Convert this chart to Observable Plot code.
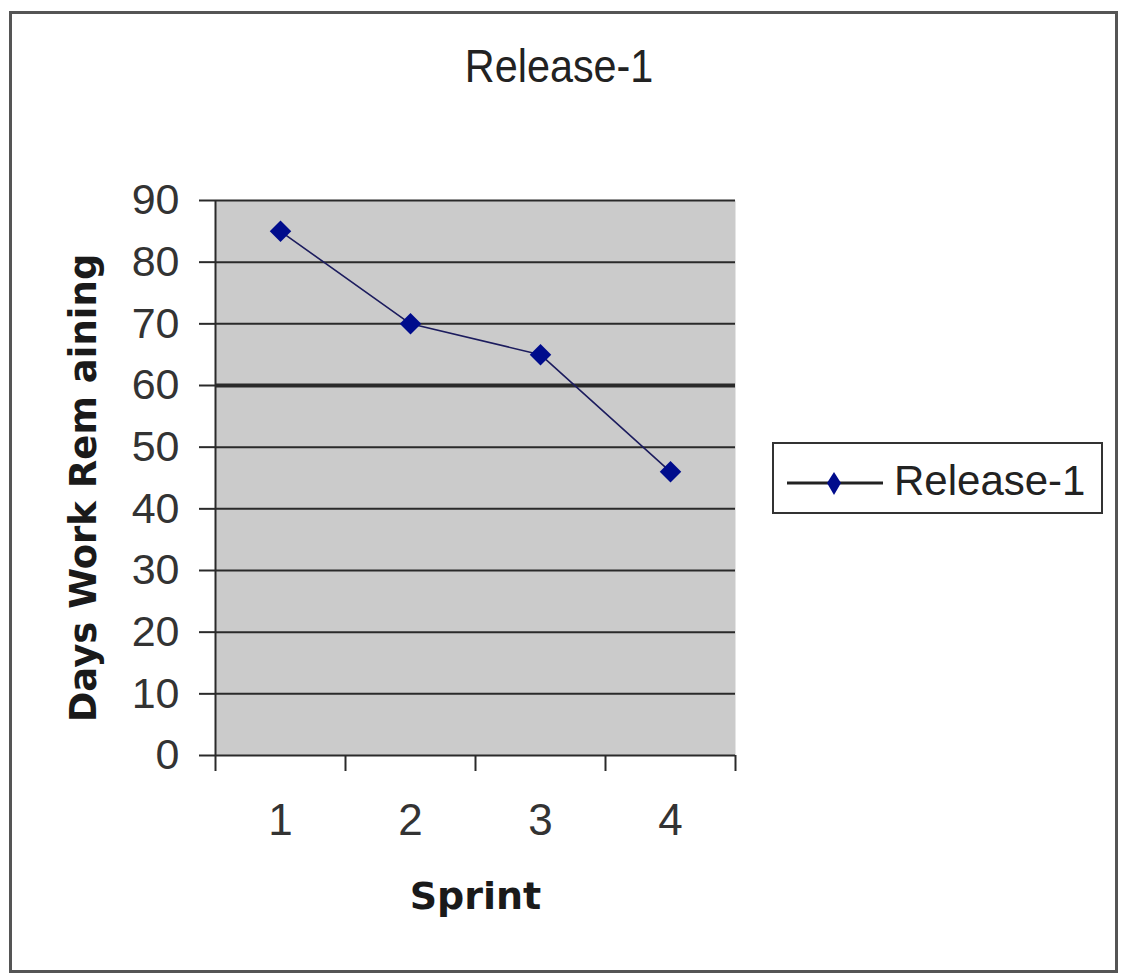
<!DOCTYPE html>
<html>
<head>
<meta charset="utf-8">
<script src="https://cdn.jsdelivr.net/npm/d3@7"></script>
<script src="https://cdn.jsdelivr.net/npm/@observablehq/plot@0.6"></script>
<style>
  html, body { margin: 0; padding: 0; background: #ffffff; }
  #wrap { position: relative; width: 1123px; height: 977px; overflow: hidden; }
  #wrap svg.chart { position: absolute; left: 0; top: 0; }
  #border { position: absolute; left: 9px; top: 11px; width: 1109px; height: 962px; box-sizing: border-box; border: 3px solid #555; pointer-events: none; }
  #title { position: absolute; left: 0; width: 1118px; top: 42px; text-align: center; font-family: 'Liberation Sans', Arial, sans-serif; font-size: 47px; line-height: 1; color: #222; }
  #title span { display: inline-block; transform: scaleX(0.88); }
  #legend { position: absolute; left: 772px; top: 442px; width: 331px; height: 72px; box-sizing: border-box; border: 2px solid #333; background: #fff; }
  #legend svg { position: absolute; left: 0; top: 0; }
  #legend .lab { position: absolute; left: 120px; top: 16px; font-family: 'Liberation Sans', Arial, sans-serif; font-size: 42px; line-height: 1; color: #222; }
</style>
</head>
<body>
<div id="wrap">
  <div id="title"><span></span></div>
  <div id="legend"><svg width="120" height="70"><line x1="13" x2="109" y1="39" y2="39" stroke="#222" stroke-width="3"/><path d="M60,28 L67,39 L60,51 L53,39 Z" fill="#000c8c"/></svg><div class="lab"></div></div>
  <div id="border"></div>
</div>
<script>
// ---- data ----
const chartTitle = "Release-1";
const seriesName = "Release-1";
const xTitle = "Sprint";
const yTitle = "Days Work Rem aining";
const sprints = [1, 2, 3, 4];
const remaining = [85, 70, 65, 46];
const yTicks = [0, 10, 20, 30, 40, 50, 60, 70, 80, 90];
const xBounds = [0.5, 1.5, 2.5, 3.5, 4.5];

const data = sprints.map((s, i) => ({sprint: s, days: remaining[i]}));

document.querySelector("#title span").textContent = chartTitle;
document.querySelector("#legend .lab").textContent = seriesName;

const chart = Plot.plot({
  width: 1123,
  height: 977,
  marginTop: 200,
  marginBottom: 222,
  marginLeft: 215,
  marginRight: 388,
  style: {background: "transparent", color: "#222", fontFamily: "'Liberation Sans', Arial, sans-serif"},
  x: {domain: [xBounds[0], xBounds[xBounds.length - 1]]},
  y: {domain: [yTicks[0], yTicks[yTicks.length - 1]]},
  marks: [
    Plot.frame({fill: "#cbcbcb", stroke: null}),
    Plot.ruleY(yTicks, {stroke: "#2a2a2a", strokeWidth: d => d === 60 ? 4 : 2}),
    Plot.ruleX([xBounds[0]], {stroke: "#2a2a2a", strokeWidth: 2}),
    Plot.axisY(yTicks, {tickSize: 16, tickPadding: 20, fontSize: 43, label: null, stroke: "#2a2a2a", strokeWidth: 2, fill: "#333"}),
    Plot.axisX(xBounds, {tickSize: 16, tickFormat: () => "", label: null, stroke: "#2a2a2a", strokeWidth: 2}),
    Plot.axisX(sprints, {tickSize: 0, tickPadding: 48, fontSize: 44, label: null, fill: "#333", tickFormat: d => String(d)}),
    Plot.line(data, {x: "sprint", y: "days", stroke: "#1c1c5e", strokeWidth: 1.6}),
    Plot.dot(data, {x: "sprint", y: "days", symbol: "square", rotate: 45, r: 8.6, fill: "#000c8c", stroke: "none"}),
    Plot.text([xTitle], {frameAnchor: "bottom", dy: 141, fontSize: 38, fontWeight: "bold", fontFamily: "'DejaVu Sans', Verdana, sans-serif", lineAnchor: "middle", textAnchor: "middle", fill: "#1a1a1a"}),
    Plot.text([yTitle], {frameAnchor: "left", dx: -131, dy: 10, rotate: -90, fontSize: 37, fontWeight: "bold", fontFamily: "'DejaVu Sans', Verdana, sans-serif", lineAnchor: "middle", textAnchor: "middle", fill: "#1a1a1a"})
  ]
});
chart.classList.add("chart");
document.getElementById("wrap").prepend(chart);
</script>
</body>
</html>
